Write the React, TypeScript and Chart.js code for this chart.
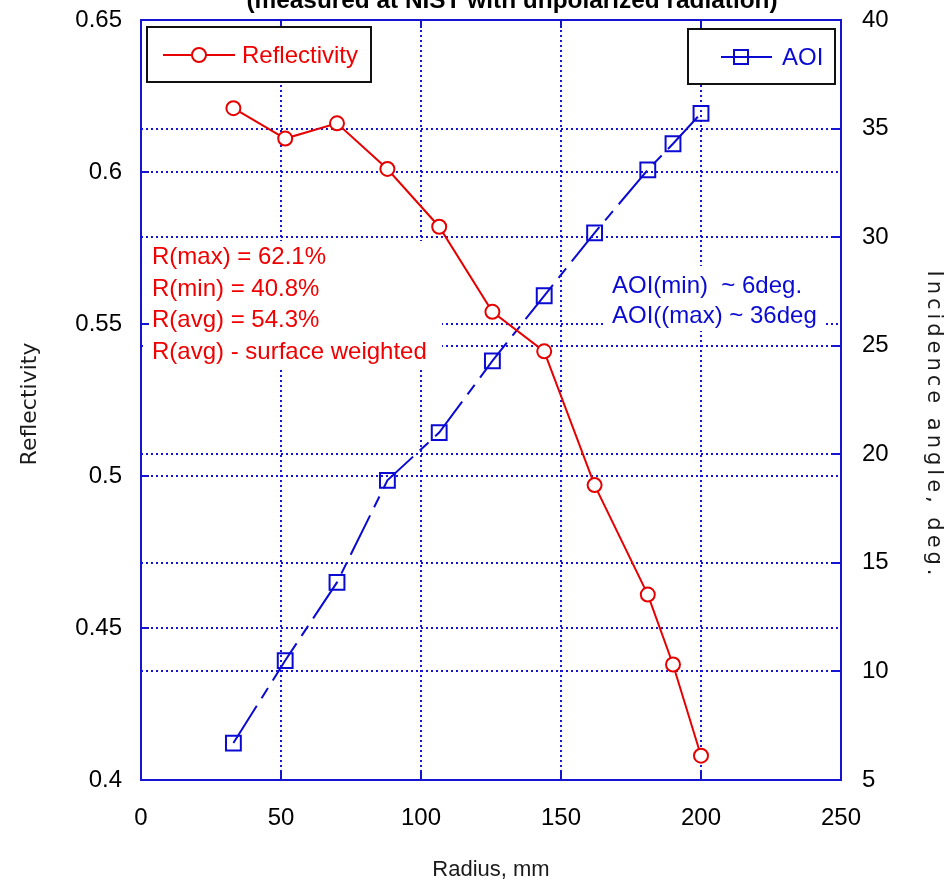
import React, { useEffect, useRef } from "react";
import { Chart, registerables } from "chart.js";
Chart.register(...registerables);

const radius = [33, 51.5, 70, 88, 106.5, 125.5, 144, 162, 181, 190, 200];
const reflectivity = [0.621, 0.611, 0.616, 0.601, 0.582, 0.554, 0.541, 0.497, 0.461, 0.438, 0.408];
const aoi = [6.7, 10.5, 14.1, 18.8, 21.0, 24.3, 27.3, 30.2, 33.1, 34.3, 35.7];

const xTicks = [0, 50, 100, 150, 200, 250];
const leftTicks = [0.4, 0.45, 0.5, 0.55, 0.6, 0.65];
const rightTicks = [5, 10, 15, 20, 25, 30, 35, 40];

const titleText = "(measured at NIST with unpolarized radiation)";
const xTitle = "Radius, mm";
const leftTitle = "Reflectivity";
const rightTitle = "Incidence angle, deg.";
const reflNotes = ["R(max) = 62.1%", "R(min) = 40.8%", "R(avg) = 54.3%", "R(avg) - surface weighted"];
const aoiNotes = ["AOI(min)  ~ 6deg.", "AOI((max) ~ 36deg"];

const BLUE = "#1414d2";
const LINEBLUE = "#0a0ad2";
const RED = "#e60000";
const TEXTRED = "#f00000";
const SANS = "'Liberation Sans', Arial, sans-serif";

const decor = {
  id: "decor",
  beforeDatasetsDraw(chart: any) {
    const { ctx, chartArea: a, scales } = chart;
    ctx.save();
    ctx.strokeStyle = BLUE;
    ctx.lineWidth = 2;
    ctx.setLineDash([2, 3]);
    xTicks.slice(1, -1).forEach((v) => {
      const x = Math.round(scales.x.getPixelForValue(v));
      ctx.beginPath();
      ctx.moveTo(x, a.top);
      ctx.lineTo(x, a.bottom);
      ctx.stroke();
    });
    leftTicks.slice(1, -1).forEach((v) => {
      const y = Math.round(scales.y.getPixelForValue(v));
      ctx.beginPath();
      ctx.moveTo(a.left, y);
      ctx.lineTo(a.right, y);
      ctx.stroke();
    });
    rightTicks.slice(1, -1).forEach((v) => {
      const y = Math.round(scales.y2.getPixelForValue(v));
      ctx.beginPath();
      ctx.moveTo(a.left, y);
      ctx.lineTo(a.right, y);
      ctx.stroke();
    });
    ctx.setLineDash([]);
    // note backgrounds
    ctx.fillStyle = "#fff";
    ctx.fillRect(a.left + 2, 241, 299, 127);
    ctx.fillRect(604, 266, 222, 65);
    // notes
    ctx.font = `24px ${SANS}`;
    ctx.textAlign = "left";
    ctx.textBaseline = "alphabetic";
    ctx.fillStyle = TEXTRED;
    reflNotes.forEach((t, i) => ctx.fillText(t, 152, 264 + i * 31.5));
    ctx.fillStyle = LINEBLUE;
    aoiNotes.forEach((t, i) => ctx.fillText(t, 612, 293 + i * 30));
    ctx.restore();
  },
  afterDraw(chart: any) {
    const { ctx, chartArea: a, scales } = chart;
    ctx.save();
    // frame
    ctx.strokeStyle = BLUE;
    ctx.lineWidth = 2;
    ctx.strokeRect(a.left, a.top, a.right - a.left, a.bottom - a.top);
    // inward ticks
    const tl = 8;
    ctx.beginPath();
    xTicks.slice(1, -1).forEach((v) => {
      const x = Math.round(scales.x.getPixelForValue(v));
      ctx.moveTo(x, a.bottom);
      ctx.lineTo(x, a.bottom - tl);
      ctx.moveTo(x, a.top);
      ctx.lineTo(x, a.top + tl);
    });
    leftTicks.slice(1, -1).forEach((v) => {
      const y = Math.round(scales.y.getPixelForValue(v));
      ctx.moveTo(a.left, y);
      ctx.lineTo(a.left + tl, y);
    });
    rightTicks.slice(1, -1).forEach((v) => {
      const y = Math.round(scales.y2.getPixelForValue(v));
      ctx.moveTo(a.right, y);
      ctx.lineTo(a.right - tl, y);
    });
    ctx.stroke();

    // legends
    ctx.lineWidth = 2;
    ctx.strokeStyle = "#111";
    ctx.fillStyle = "#fff";
    ctx.fillRect(147, 27, 224, 55);
    ctx.strokeRect(147, 27, 224, 55);
    ctx.fillRect(688, 29, 147, 55);
    ctx.strokeRect(688, 29, 147, 55);

    ctx.strokeStyle = RED;
    ctx.beginPath();
    ctx.moveTo(163, 55);
    ctx.lineTo(235, 55);
    ctx.stroke();
    ctx.fillStyle = "#fff";
    ctx.beginPath();
    ctx.arc(199, 55, 7, 0, Math.PI * 2);
    ctx.fill();
    ctx.stroke();
    ctx.font = `24px ${SANS}`;
    ctx.fillStyle = TEXTRED;
    ctx.textAlign = "left";
    ctx.textBaseline = "middle";
    ctx.fillText("Reflectivity", 242, 56);

    ctx.strokeStyle = LINEBLUE;
    ctx.beginPath();
    ctx.moveTo(721, 57);
    ctx.lineTo(772, 57);
    ctx.stroke();
    ctx.strokeRect(734, 50, 14, 14);
    ctx.fillStyle = LINEBLUE;
    ctx.fillText("AOI", 782, 58);

    // title (cut at top)
    ctx.fillStyle = "#000";
    ctx.font = `bold 20px ${SANS}`;
    const w = ctx.measureText(titleText).width;
    const fs = (20 * 531) / w;
    ctx.font = `bold ${fs.toFixed(1)}px ${SANS}`;
    ctx.textAlign = "center";
    ctx.textBaseline = "alphabetic";
    ctx.fillText(titleText, 512, 8);

    // axis titles
    ctx.fillStyle = "#1a1a1a";
    ctx.font = `22px ${SANS}`;
    ctx.textBaseline = "middle";
    ctx.fillText(xTitle, 491, 870);

    ctx.font = `22px 'DejaVu Sans', sans-serif`;
    ctx.save();
    ctx.translate(30, 404);
    ctx.rotate(-Math.PI / 2);
    ctx.fillText(leftTitle, 0, 0);
    ctx.restore();

    ctx.save();
    ctx.font = `21px 'DejaVu Sans', sans-serif`;
    const nat = ctx.measureText(rightTitle).width;
    const ls = Math.max(0, (305 - nat) / (rightTitle.length - 1));
    (ctx as any).letterSpacing = `${ls.toFixed(2)}px`;
    ctx.translate(933, 425);
    ctx.rotate(Math.PI / 2);
    ctx.textAlign = "left";
    const w2 = ctx.measureText(rightTitle).width;
    ctx.fillText(rightTitle, -w2 / 2, 0);
    ctx.restore();

    ctx.restore();
  },
};

export default function App() {
  const ref = useRef<HTMLCanvasElement>(null);
  useEffect(() => {
    if (!ref.current) return;
    const tickFont = { family: SANS, size: 24 };
    const fitV = (w: number) => (s: any) => {
      s.width = w;
      s.paddingTop = 0;
      s.paddingBottom = 0;
    };
    const chart = new Chart(ref.current, {
      type: "line",
      data: {
        datasets: [
          {
            label: "Reflectivity",
            data: radius.map((x, i) => ({ x, y: reflectivity[i] })),
            yAxisID: "y",
            borderColor: RED,
            borderWidth: 2,
            pointStyle: "circle",
            pointRadius: 7,
            pointBorderWidth: 2,
            pointBorderColor: RED,
            pointBackgroundColor: "#fff",
            tension: 0,
            fill: false,
          },
          {
            label: "AOI",
            data: radius.map((x, i) => ({ x, y: aoi[i] })),
            yAxisID: "y2",
            borderColor: LINEBLUE,
            borderWidth: 2,
            borderDash: [44, 9, 12, 9],
            pointStyle: "rect",
            pointRadius: 10.5,
            pointBorderWidth: 2,
            pointBorderColor: LINEBLUE,
            pointBackgroundColor: "rgba(0,0,0,0)",
            tension: 0,
            fill: false,
          },
        ],
      } as any,
      options: {
        animation: false,
        responsive: true,
        maintainAspectRatio: false,
        layout: { padding: { top: 20, left: 0, right: 0, bottom: 0 } },
        plugins: { legend: { display: false }, tooltip: { enabled: false } },
        scales: {
          x: {
            type: "linear",
            min: 0,
            max: 250,
            grid: { display: false, drawTicks: false },
            border: { display: false },
            afterBuildTicks: (s: any) => {
              s.ticks = xTicks.map((v) => ({ value: v }));
            },
            afterFit: (s: any) => {
              s.height = 101;
              s.paddingLeft = 0;
              s.paddingRight = 0;
            },
            ticks: { color: "#000", font: tickFont, padding: 24, maxRotation: 0, autoSkip: false },
          },
          y: {
            type: "linear",
            position: "left",
            min: 0.4,
            max: 0.65,
            grid: { display: false, drawTicks: false },
            border: { display: false },
            afterBuildTicks: (s: any) => {
              s.ticks = leftTicks.map((v) => ({ value: v }));
            },
            afterFit: fitV(141),
            ticks: {
              color: "#000",
              font: tickFont,
              padding: 19,
              autoSkip: false,
              callback: (v: any) => String(Number(Number(v).toFixed(2))),
            },
          },
          y2: {
            type: "linear",
            position: "right",
            min: 5,
            max: 40,
            grid: { display: false, drawTicks: false },
            border: { display: false },
            afterBuildTicks: (s: any) => {
              s.ticks = rightTicks.map((v) => ({ value: v }));
            },
            afterFit: fitV(108),
            ticks: { color: "#000", font: tickFont, padding: 21, autoSkip: false },
          },
        },
      } as any,
      plugins: [decor],
    });
    return () => chart.destroy();
  }, []);
  return (
    <div style={{ position: "fixed", left: 0, top: 0, width: 949, height: 881, background: "#fff" }}>
      <canvas ref={ref} />
    </div>
  );
}
